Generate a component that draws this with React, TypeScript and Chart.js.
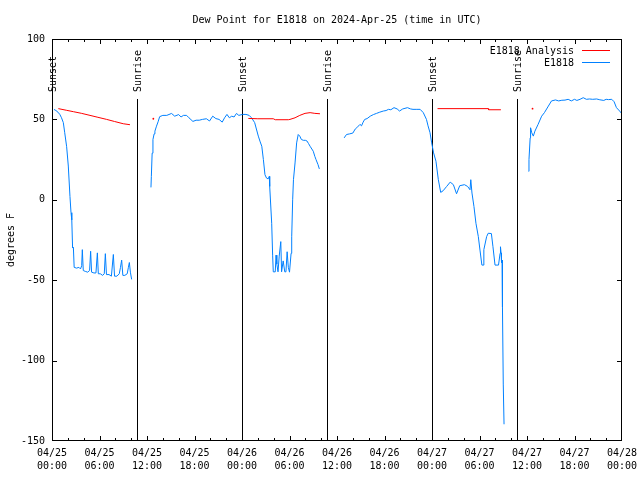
import React, { useEffect, useRef } from "react";
import { Chart, registerables } from "chart.js";

Chart.register(...registerables);

const FONT = "'DejaVu Sans Mono', 'Liberation Mono', monospace";
const TITLE = "Dew Point for E1818 on 2024-Apr-25 (time in UTC)";
const Y_TITLE = "degrees F";
const ANALYSIS_LABEL = "E1818 Analysis";
const OBS_LABEL = "E1818";
const ANALYSIS_COLOR = "#ff0000";
const OBS_COLOR = "#0080ff";

// x axis: hours since 04/25 00:00 UTC
const X_MIN = 0;
const X_MAX = 72;
const xTickDates = ["04/25", "04/25", "04/25", "04/25", "04/26", "04/26", "04/26", "04/26", "04/27", "04/27", "04/27", "04/27", "04/28"];
const xTickTimes = ["00:00", "06:00", "12:00", "18:00", "00:00", "06:00", "12:00", "18:00", "00:00", "06:00", "12:00", "18:00", "00:00"];
const yTickValues = [100, 50, 0, -50, -100, -150];

// sunrise / sunset markers (hours since 04/25 00:00 UTC)
const sunEventLabels = ["Sunset", "Sunrise", "Sunset", "Sunrise", "Sunset", "Sunrise"];
const sunEventHours = [0, 10.77, 24.05, 34.72, 47.97, 58.68];

// E1818 Analysis (red)
const analysisSegment1: [number, number][] = [
  [0.8, 56.7], [1.8, 55.7], [2.7, 54.8], [3.7, 53.8], [4.8, 52.5], [5.8, 51.3],
  [6.9, 50.0], [7.9, 48.7], [9.0, 47.3], [9.85, 46.7],
];
const analysisPoint1: [number, number][] = [[12.8, 50.4]];
const analysisSegment2: [number, number][] = [
  [24.8, 50.6], [26.0, 50.4], [27.95, 50.4], [28.2, 49.8], [29.85, 49.8], [30.06, 50.0],
  [30.7, 51.0], [31.3, 52.5], [31.96, 53.75], [32.6, 54.2], [33.2, 53.75], [33.85, 53.5],
];
const analysisSegment3: [number, number][] = [
  [48.7, 56.7], [55.1, 56.7], [55.15, 56.0], [56.7, 56.0],
];
const analysisPoint2: [number, number][] = [[60.7, 56.7]];

// E1818 observations (blue)
const obsSegment1: [number, number][] = [
  [0.25, 56.2], [0.5, 55.5], [0.75, 54.5], [1.0, 53], [1.2, 51], [1.43, 48], [1.6, 42],
  [1.85, 33], [2.06, 21], [2.27, 2], [2.4, -8], [2.5, -12.5], [2.6, -30], [2.7, -29.5],
  [2.8, -42], [3.1, -42.5], [3.4, -42], [3.6, -43], [3.75, -41], [3.83, -31], [3.95, -44],
  [4.2, -44.5], [4.5, -45], [4.75, -44], [4.88, -32], [5.0, -45], [5.3, -45.5], [5.55, -45.5],
  [5.73, -33], [5.85, -46], [6.1, -46], [6.4, -47], [6.6, -46], [6.74, -33.5], [6.88, -46.5],
  [7.2, -46.5], [7.5, -47.5], [7.75, -34], [7.9, -47.5], [8.2, -47.5], [8.5, -46], [8.65, -42],
  [8.8, -37.5], [8.95, -47], [9.2, -47], [9.5, -46], [9.65, -42], [9.77, -39], [9.9, -45],
  [10.06, -49.5],
];
const obsSegment2: [number, number][] = [
  [12.5, 7.7], [12.55, 14.6], [12.65, 29], [12.75, 37.5], [12.9, 41], [13.0, 42.7], [13.2, 45.8],
  [13.4, 48.5], [13.6, 51.7], [14.0, 52.5], [14.5, 52.5], [15.1, 53.7], [15.5, 52], [16.0, 53],
  [16.3, 51.5], [16.6, 52.5], [17.0, 52.5], [17.3, 51], [17.8, 48.75], [18.2, 49.5], [18.6, 49.5],
  [19.0, 50], [19.5, 50.4], [19.9, 49], [20.3, 52], [20.7, 50.5], [21.1, 50], [21.5, 48.3],
  [21.8, 51], [22.1, 53.1], [22.4, 51], [22.7, 52], [23.0, 51.5], [23.3, 53.7], [23.6, 52.5],
  [24.05, 53.1], [24.5, 53.1], [24.9, 52.5], [25.2, 51], [25.6, 48], [26.06, 39.6], [26.3, 36],
  [26.5, 33.3], [26.7, 25], [26.9, 15.6], [27.1, 13.5], [27.3, 13], [27.45, 14.6], [27.5, 8.3],
  [27.75, -14.6], [27.87, -34.4], [27.95, -44.8], [28.2, -44.8], [28.3, -34.4], [28.4, -40],
  [28.55, -44.8], [28.7, -35], [28.9, -26], [29.0, -44.8], [29.2, -38], [29.4, -44.8],
  [29.55, -44.8], [29.7, -32.3], [29.85, -42], [30.0, -45], [30.2, -33.3], [30.28, -23],
  [30.4, 0], [30.5, 12.5], [30.7, 22.9], [30.9, 35.4], [31.1, 40.6], [31.3, 39.6], [31.5, 37.5],
  [31.75, 37], [32.0, 37], [32.2, 36.6], [32.4, 35], [32.6, 33.3], [33.0, 30.2], [33.2, 27],
  [33.35, 25], [33.6, 21.9], [33.77, 19.2],
];
const obsSegment3: [number, number][] = [
  [36.9, 38.5], [37.2, 40.6], [37.6, 41], [38.0, 41.5], [38.3, 44], [38.5, 44.8], [38.9, 46.9],
  [39.1, 46], [39.3, 48.3], [39.5, 50], [39.8, 50.5], [40.2, 52], [40.6, 53], [41.0, 53.75],
  [41.4, 54.5], [41.85, 55.2], [42.2, 55.5], [42.5, 56.25], [42.8, 56], [43.2, 57.3], [43.6, 56.5],
  [43.9, 55.2], [44.3, 56.5], [44.9, 57.3], [45.3, 56.5], [45.6, 56.25], [46.0, 56.25],
  [46.5, 56.25], [46.9, 54.2], [47.3, 50], [47.5, 46], [47.75, 41.7], [47.96, 35.4], [48.2, 29.2],
  [48.5, 24], [48.8, 12.5], [49.1, 4.6], [49.4, 5.6], [49.85, 8.3], [50.3, 11], [50.7, 9.4],
  [51.1, 3.75], [51.5, 8.75], [52.1, 9.4], [52.5, 8.3], [52.8, 6.25], [52.9, 12.5], [53.05, 4.2],
  [53.3, -4.2], [53.55, -14.6], [53.85, -22.9], [54.06, -31.25], [54.3, -40.6], [54.45, -40.6],
  [54.55, -31], [54.9, -22.9], [55.1, -20.8], [55.5, -21], [55.7, -29.2], [55.96, -40.6],
  [56.4, -40.6], [56.6, -33.3], [56.65, -29.2], [56.72, -33], [56.78, -39], [56.85, -37.5],
  [56.9, -66.7], [57.0, -114.6], [57.1, -139.6],
];
const obsSegment4: [number, number][] = [
  [60.2, 17.7], [60.25, 25], [60.4, 38.5], [60.45, 44.8], [60.6, 41.7], [60.8, 39.6], [61.0, 42.7],
  [61.4, 46.9], [61.85, 52], [62.2, 54.2], [62.7, 58.3], [63.1, 61.5], [63.6, 62.1], [64.0, 61.5],
  [64.4, 61.9], [64.8, 62], [65.2, 62.5], [65.6, 61.5], [66.0, 62.5], [66.3, 61.8], [66.7, 62.5],
  [67.1, 63.5], [67.5, 62.5], [67.9, 62.7], [68.3, 62.5], [68.8, 62.7], [69.2, 62.2], [69.7, 61.8],
  [70.0, 62.5], [70.3, 62.3], [70.7, 62.5], [71.0, 61], [71.3, 57.3], [71.7, 55.2], [71.9, 54],
];

type Pt = { x: number; y: number | null };

function joinSegments(segments: [number, number][][]): Pt[] {
  const out: Pt[] = [];
  segments.forEach((seg, i) => {
    if (i > 0) out.push({ x: seg[0][0], y: null });
    seg.forEach(([x, y]) => out.push({ x, y }));
  });
  return out;
}

const isolatedRadius = (ctx: any) => {
  const d = ctx.dataset.data as Pt[];
  const i = ctx.dataIndex;
  const prev = d[i - 1];
  const next = d[i + 1];
  const isolated = (!prev || prev.y == null) && (!next || next.y == null);
  return isolated ? 0.9 : 0;
};

const decorPlugin = {
  id: "decor",
  beforeDatasetsDraw(chart: any) {
    const { ctx, chartArea, scales } = chart;
    const xs = scales.x;
    ctx.save();
    ctx.strokeStyle = "#000";
    ctx.lineWidth = 1;
    ctx.fillStyle = "#000";
    ctx.font = `10px ${FONT}`;
    sunEventHours.forEach((h, i) => {
      const x = Math.round(xs.getPixelForValue(h)) + 0.5;
      ctx.beginPath();
      ctx.moveTo(x, chartArea.top + 60);
      ctx.lineTo(x, chartArea.bottom);
      ctx.stroke();
      ctx.save();
      ctx.translate(x + 0.5, chartArea.top + 53);
      ctx.rotate(-Math.PI / 2);
      ctx.textAlign = "left";
      ctx.textBaseline = "middle";
      ctx.fillText(sunEventLabels[i], 0, 0);
      ctx.restore();
    });
    ctx.restore();
  },
  afterDraw(chart: any) {
    const { ctx, chartArea, scales } = chart;
    const xs = scales.x;
    const ys = scales.y;
    const L = chartArea.left, R = chartArea.right, T = chartArea.top, B = chartArea.bottom;
    ctx.save();
    ctx.strokeStyle = "#000";
    ctx.lineWidth = 1;
    // frame
    ctx.strokeRect(L + 0.5, T + 0.5, R - L - 1, B - T - 1);
    // x ticks (major every 6h, minor every 2h), inward, mirrored
    ctx.beginPath();
    for (let h = X_MIN; h <= X_MAX; h += 2) {
      const len = h % 6 === 0 ? 5 : 3;
      const x = Math.min(Math.round(xs.getPixelForValue(h)), R - 1) + 0.5;
      ctx.moveTo(x, B);
      ctx.lineTo(x, B - len);
      ctx.moveTo(x, T);
      ctx.lineTo(x, T + len);
    }
    // y ticks
    yTickValues.forEach((v) => {
      const y = Math.min(Math.round(ys.getPixelForValue(v)), B - 1) + 0.5;
      ctx.moveTo(L, y);
      ctx.lineTo(L + 5, y);
      ctx.moveTo(R, y);
      ctx.lineTo(R - 5, y);
    });
    ctx.stroke();

    // title
    ctx.fillStyle = "#000";
    ctx.font = `10px ${FONT}`;
    ctx.textAlign = "center";
    ctx.textBaseline = "middle";
    ctx.fillText(TITLE, (L + R) / 2, 20);

    // legend (top right, inside plot)
    const rows = [
      { label: ANALYSIS_LABEL, color: ANALYSIS_COLOR, y: T + 11.5 },
      { label: OBS_LABEL, color: OBS_COLOR, y: T + 23.5 },
    ];
    rows.forEach((r) => {
      ctx.fillStyle = "#000";
      ctx.textAlign = "right";
      ctx.textBaseline = "middle";
      ctx.fillText(r.label, R - 48, r.y + 0.5);
      ctx.strokeStyle = r.color;
      ctx.beginPath();
      ctx.moveTo(R - 40, r.y);
      ctx.lineTo(R - 12, r.y);
      ctx.stroke();
    });
    ctx.restore();
  },
};

export default function App() {
  const canvasRef = useRef<HTMLCanvasElement | null>(null);

  useEffect(() => {
    if (!canvasRef.current) return;
    const tickFont = { family: FONT, size: 10, lineHeight: 1.3 };
    const chart = new Chart(canvasRef.current, {
      type: "line",
      data: {
        datasets: [
          {
            label: ANALYSIS_LABEL,
            data: joinSegments([analysisSegment1, analysisPoint1, analysisSegment2, analysisSegment3, analysisPoint2]) as any,
            borderColor: ANALYSIS_COLOR,
            backgroundColor: ANALYSIS_COLOR,
            borderWidth: 1,
            pointRadius: isolatedRadius as any,
            pointBorderWidth: 0,
            pointBackgroundColor: ANALYSIS_COLOR,
            tension: 0,
            spanGaps: false,
          },
          {
            label: OBS_LABEL,
            data: joinSegments([obsSegment1, obsSegment2, obsSegment3, obsSegment4]) as any,
            borderColor: OBS_COLOR,
            backgroundColor: OBS_COLOR,
            borderWidth: 1,
            pointRadius: isolatedRadius as any,
            pointBorderWidth: 0,
            pointBackgroundColor: OBS_COLOR,
            tension: 0,
            spanGaps: false,
          },
        ],
      },
      options: {
        responsive: false,
        animation: false,
        devicePixelRatio: 1,
        events: [],
        layout: { padding: { left: 0, right: 18, top: 39, bottom: 0 } },
        plugins: {
          legend: { display: false },
          title: { display: false },
          tooltip: { enabled: false },
        },
        scales: {
          x: {
            type: "linear",
            min: X_MIN,
            max: X_MAX,
            grid: { display: false, drawTicks: false },
            border: { display: false },
            ticks: {
              stepSize: 6,
              autoSkip: false,
              maxRotation: 0,
              minRotation: 0,
              padding: 6,
              color: "#000",
              font: tickFont,
              callback: (v: any) => {
                const i = Math.round(Number(v) / 6);
                return [xTickDates[i], xTickTimes[i]];
              },
            },
            afterFit: (s: any) => {
              s.height = 39;
              s.paddingLeft = 0;
              s.paddingRight = 0;
            },
          },
          y: {
            type: "linear",
            min: -150,
            max: 100,
            grid: { display: false, drawTicks: false },
            border: { display: false },
            ticks: {
              stepSize: 50,
              padding: 7,
              color: "#000",
              font: { family: FONT, size: 10 },
            },
            title: {
              display: true,
              text: Y_TITLE,
              color: "#000",
              font: { family: FONT, size: 10 },
              padding: { top: 5, bottom: 0 },
            },
            afterFit: (s: any) => {
              s.width = 52;
              s.paddingTop = 0;
              s.paddingBottom = 0;
            },
          },
        },
      },
      plugins: [decorPlugin],
    });
    return () => chart.destroy();
  }, []);

  return (
    <div style={{ position: "absolute", left: 0, top: 0, width: 640, height: 480, background: "#fff" }}>
      <canvas ref={canvasRef} width={640} height={480} style={{ display: "block" }} />
    </div>
  );
}
